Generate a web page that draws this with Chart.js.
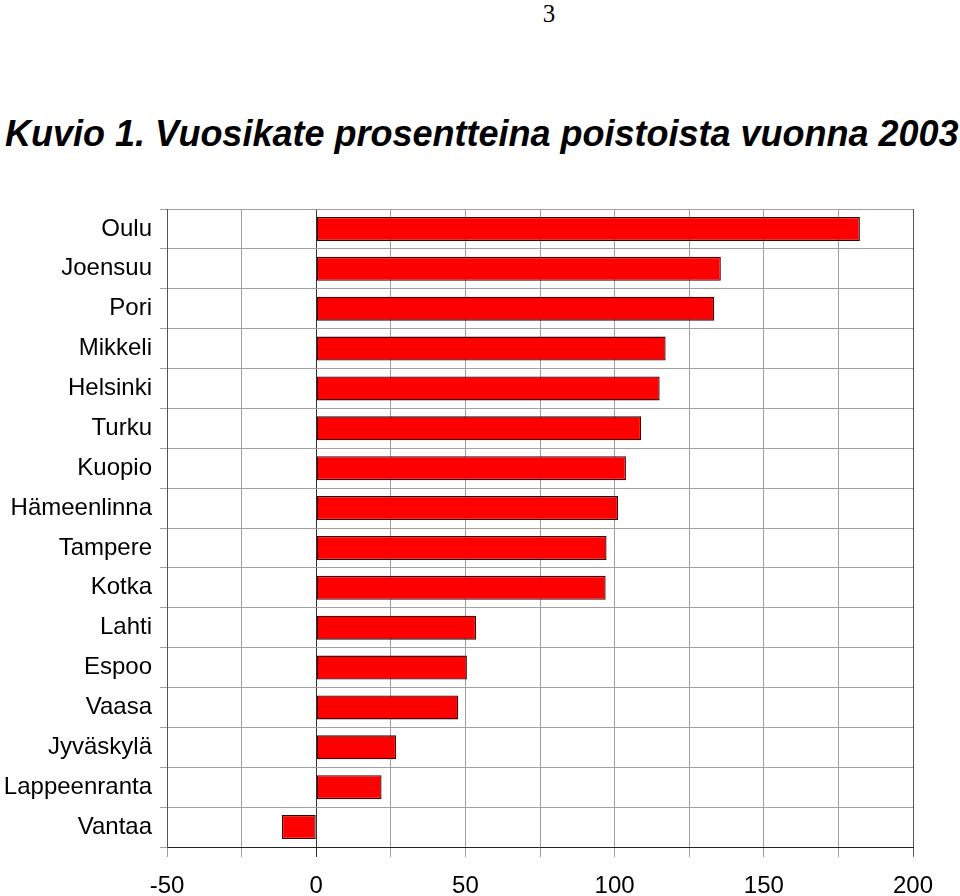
<!DOCTYPE html>
<html>
<head>
<meta charset="utf-8">
<script src="https://cdn.jsdelivr.net/npm/chart.js@4"></script>
<style>
  html, body { margin: 0; padding: 0; background: #fff; }
  #page { position: relative; width: 960px; height: 896px; overflow: hidden; }
  #pageNo {
    position: absolute; left: 0; top: 1px; width: 1098px; text-align: center;
    font: 25px/25px "Liberation Serif", "Times New Roman", serif; color: #000;
  }
  #title {
    position: absolute; left: 5px; top: 116px; white-space: nowrap;
    font: italic bold 36px/36px "Liberation Sans", Arial, sans-serif; color: #000;
  }
  #chartBox { position: absolute; left: 0; top: 0; width: 960px; height: 896px; }
</style>
</head>
<body>
<div id="page">
  <div id="pageNo">3</div>
  <div id="title">Kuvio 1. Vuosikate prosentteina poistoista vuonna 2003</div>
  <div id="chartBox"><canvas id="chart"></canvas></div>
</div>
<script>
// data
const cities = ['Oulu', 'Joensuu', 'Pori', 'Mikkeli', 'Helsinki', 'Turku', 'Kuopio',
  'Hämeenlinna', 'Tampere', 'Kotka', 'Lahti', 'Espoo', 'Vaasa', 'Jyväskylä',
  'Lappeenranta', 'Vantaa'];
const vuosikate = [182.2, 135.6, 133.4, 117.1, 115.1, 108.9, 103.8,
  101.2, 97.3, 97.0, 53.6, 50.5, 47.6, 26.8, 21.9, -11.5];
const xMin = -50;
const xMax = 200;
const xStep = 25;
const labelStep = 50;

Chart.defaults.font.family = '"Liberation Sans", Arial, sans-serif';
Chart.defaults.color = '#000';

new Chart(document.getElementById('chart'), {
  type: 'bar',
  data: {
    labels: cities,
    datasets: [{
      data: vuosikate,
      backgroundColor: '#ff0000',
      borderColor: '#400000',
      borderWidth: 1.3,
      borderSkipped: false,
      barPercentage: 0.6,
      categoryPercentage: 1
    }]
  },
  options: {
    indexAxis: 'y',
    responsive: true,
    maintainAspectRatio: false,
    animation: false,
    layout: { padding: { left: 0, right: 47, top: 209, bottom: 0 } },
    plugins: {
      legend: { display: false },
      tooltip: { enabled: false },
      title: { display: false }
    },
    scales: {
      x: {
        type: 'linear',
        min: xMin,
        max: xMax,
        afterFit: (scale) => { scale.height = 49; },
        ticks: {
          stepSize: xStep,
          padding: 15,
          maxRotation: 0,
          autoSkip: false,
          font: { size: 24 },
          callback: (v) => (v % labelStep === 0 ? String(v) : '')
        },
        grid: {
          tickLength: 10,
          lineWidth: 1,
          color: (ctx) => {
            const v = ctx.tick && ctx.tick.value;
            if (v === 0) return '#333';
            if (v === xMax) return '#555';
            return '#a0a0a0';
          }
        },
        border: { color: '#222', width: 1 }
      },
      y: {
        afterFit: (scale) => { scale.width = 167; },
        ticks: {
          padding: 8,
          autoSkip: false,
          font: { size: 24 }
        },
        grid: {
          offset: true,
          tickLength: 7,
          lineWidth: 1,
          color: '#a0a0a0'
        },
        border: { color: '#555', width: 1 }
      }
    }
  }
});
</script>
</body>
</html>
